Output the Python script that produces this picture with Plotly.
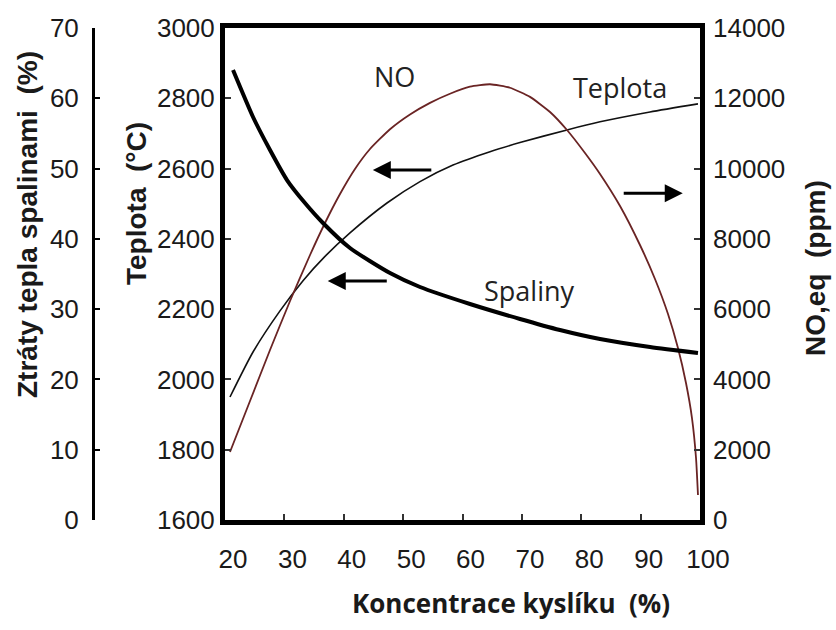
import plotly.graph_objects as go

# ---- data ----
x_ticks = [20, 30, 40, 50, 60, 70, 80, 90, 100]

# Spaliny (heat loss in flue gas, %) -> left outer axis
spaliny_x = [21.35, 24.72, 27.58, 30.44, 33.47, 36.5, 41.05, 47.79, 52.84, 61.26, 69.68, 76.42, 83.16, 91.58, 99.66]
spaliny_y = [64.02, 57.34, 52.64, 48.37, 45.10, 42.26, 38.70, 35.14, 33.15, 30.73, 28.60, 27.03, 25.75, 24.61, 23.76]

# Teplota (flame temperature, °C) -> left inner axis
teplota_x = [20.84, 24.72, 29.26, 33.14, 36.84, 41.05, 47.28, 52.84, 58.4, 64.63, 69.68, 77.6, 83.16, 91.58, 99.66]
teplota_y = [1950, 2078, 2195, 2281, 2350, 2417, 2502, 2563, 2610, 2648, 2674, 2710, 2733, 2761, 2784]

# NO equilibrium (ppm) -> right axis
no_x = [20.84, 24.21, 27.58, 30.95, 34.32, 36.84, 39.37, 41.89, 44.42, 47.79, 51.16, 54.53, 57.89,
        61.26, 64.63, 68.0, 71.37, 74.74, 77.6, 80.63, 83.16, 86.53, 89.89, 92.42, 94.61, 96.29,
        97.64, 98.65, 99.33, 99.66]
no_y = [1935, 3386, 4837, 6232, 7541, 8451, 9276, 9988, 10557, 11120, 11540, 11870, 12130,
        12330, 12400, 12300, 12040, 11610, 11097, 10443, 9846, 8935, 7825, 6858, 5862, 4894,
        3898, 2902, 1764, 711]

TICK_FONT = dict(family="Liberation Sans, Arial", size=26, color="#1a1a1a")
TITLE_FONT = dict(family="Liberation Sans, Arial", size=28, color="#1a1a1a", weight="bold")
LABEL_FONT = dict(family="Open Sans", size=27, color="#222222")

fig = go.Figure()
fig.add_trace(go.Scatter(x=teplota_x, y=teplota_y, mode="lines", name="Teplota",
                         line=dict(color="#111111", width=1.6, shape="spline", smoothing=0.6),
                         yaxis="y"))
fig.add_trace(go.Scatter(x=no_x, y=no_y, mode="lines", name="NO",
                         line=dict(color="#6a2424", width=1.8, shape="spline", smoothing=0.5),
                         yaxis="y2"))
fig.add_trace(go.Scatter(x=spaliny_x, y=spaliny_y, mode="lines", name="Spaliny",
                         line=dict(color="#000000", width=4, shape="spline", smoothing=0.6),
                         yaxis="y3"))

L, R, T, B = 93, 136, 28, 110
W, H = 836, 630
pw = W - L - R
ph = H - T - B
x0 = (225 - L) / pw

def px(p):
    return (p - L) / pw

def py(p):
    return (H - B - p) / ph

fig.update_layout(
    width=W, height=H,
    margin=dict(l=L, r=R, t=T, b=B),
    paper_bgcolor="white", plot_bgcolor="white",
    showlegend=False,
    xaxis=dict(range=[20, 100], domain=[x0, 1], tickvals=x_ticks, ticks="inside", ticklen=6,
               tickwidth=1.5, tickcolor="#333", showline=True, linewidth=5, linecolor="black",
               mirror=True, showgrid=False, zeroline=False, tickfont=TICK_FONT,
               ticklabelshift=8, ticklabelstandoff=12),
    yaxis=dict(range=[1600, 3000], dtick=200, ticks="inside", ticklen=6, tickwidth=1.5,
               tickcolor="#333", showline=True, linewidth=5, linecolor="black", mirror=True,
               showgrid=False, zeroline=False, tickfont=TICK_FONT),
    yaxis2=dict(range=[0, 14000], dtick=2000, tickformat="d", overlaying="y", side="right",
                anchor="x", ticks="inside", ticklen=6, tickwidth=1.5, tickcolor="#333",
                showline=False, showgrid=False, zeroline=False, tickfont=TICK_FONT,
                ticklabelstandoff=12),
    yaxis3=dict(range=[0, 70], dtick=10, overlaying="y", anchor="free", position=0, side="left",
                ticks="inside", ticklen=5, tickwidth=2, tickcolor="black", showline=True,
                linewidth=3, linecolor="black", showgrid=False, zeroline=False,
                tickfont=TICK_FONT, ticklabelstandoff=8),
)

annotations = [
    # axis titles
    dict(text="Ztráty tepla spalinami\u00a0 (%)", xref="paper", yref="paper", x=px(27), y=py(225),
         xanchor="center", yanchor="middle", textangle=-90, showarrow=False, font=TITLE_FONT),
    dict(text="Teplota\u00a0 (°C)", xref="paper", yref="paper", x=px(137), y=py(204),
         xanchor="center", yanchor="middle", textangle=-90, showarrow=False, font=TITLE_FONT),
    dict(text="NO,eq\u00a0 (ppm)", xref="paper", yref="paper", x=px(815), y=py(268),
         xanchor="center", yanchor="middle", textangle=-90, showarrow=False, font=TITLE_FONT),
    dict(text="Koncentrace kyslíku\u00a0 (%)", xref="paper", yref="paper", x=px(511), y=py(603),
         xanchor="center", yanchor="middle", showarrow=False,
         font=dict(family="Open Sans", size=26, color="#1a1a1a", weight="bold")),
    # curve labels
    dict(text="NO", x=48.6, y=2861, xref="x", yref="y", showarrow=False, font=LABEL_FONT),
    dict(text="Teplota", x=86.5, y=2832, xref="x", yref="y", showarrow=False, font=LABEL_FONT),
    dict(text="Spaliny", x=71.2, y=2252, xref="x", yref="y", showarrow=False, font=LABEL_FONT),
    # arrows
    dict(x=44.9, y=2596, ax=55.0, ay=2596, xref="x", yref="y", axref="x", ayref="y", text="",
         showarrow=True, arrowhead=2, arrowsize=1.2, arrowwidth=3, arrowcolor="black"),
    dict(x=37.3, y=2280, ax=47.5, ay=2280, xref="x", yref="y", axref="x", ayref="y", text="",
         showarrow=True, arrowhead=2, arrowsize=1.2, arrowwidth=3, arrowcolor="black"),
    dict(x=97.1, y=2530, ax=86.9, ay=2530, xref="x", yref="y", axref="x", ayref="y", text="",
         showarrow=True, arrowhead=2, arrowsize=1.2, arrowwidth=3, arrowcolor="black"),
]
fig.update_layout(annotations=annotations)

fig.write_html("out.html")
